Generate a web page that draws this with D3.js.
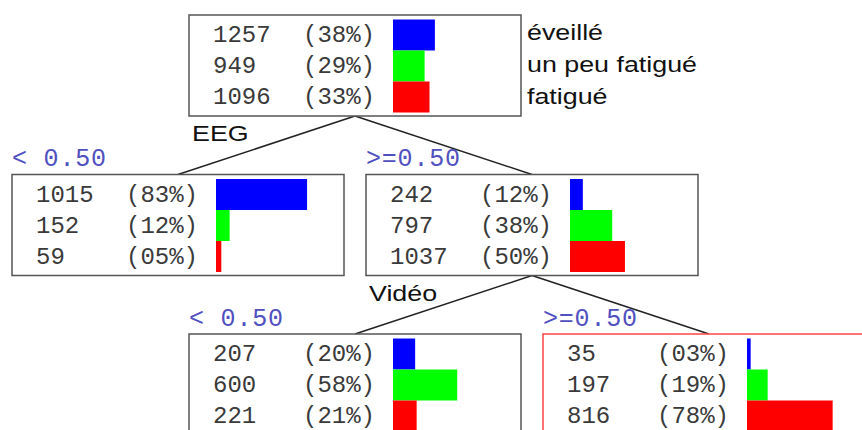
<!doctype html>
<html>
<head>
<meta charset="utf-8">
<script src="https://cdn.jsdelivr.net/npm/d3@7"></script>
<style>
	body { margin: 0; background: #fff; }
	.mono { font-family: "Liberation Mono", "DejaVu Sans Mono", monospace; }
	.sans { font-family: "Liberation Sans", Arial, sans-serif; }
</style>
</head>
<body>
<div id="main"></div>
<script>
// classes and colours
var classes = ['éveillé', 'un peu fatigué', 'fatigué'];
var classColors = ['#0000ff', '#00ff00', '#ff0000'];
// split variables and branch labels
var splitVars = ['EEG', 'Vidéo'];
var splitLabels = ['< 0.50', '>=0.50'];
// counts per node
var rootCounts = [1257, 949, 1096];
var eegLowCounts = [1015, 152, 59];
var eegHighCounts = [242, 797, 1037];
var videoLowCounts = [207, 600, 221];
var videoHighCounts = [35, 197, 816];

var width = 862, height = 430;
var boxW = 332, boxH = 101;
var monoSize = 24, edgeSize = 25, sansSize = 22, sansStretch = 1.22;

var treeData = {
	counts: rootCounts, split: splitVars[0], children: [
		{ counts: eegLowCounts, edge: splitLabels[0] },
		{ counts: eegHighCounts, edge: splitLabels[1], split: splitVars[1], children: [
			{ counts: videoLowCounts, edge: splitLabels[0] },
			{ counts: videoHighCounts, edge: splitLabels[1], selected: true }
		] }
	]
};

var svg = d3.select('#main').append('svg')
	.attr('width', width)
	.attr('height', height);

var root = d3.hierarchy(treeData);
d3.tree().nodeSize([354, 159.5])(root);

var g = svg.append('g').attr('transform', 'translate(355,15)');

// bar scale: proportion -> pixels
var xBar = d3.scaleLinear().domain([0, 1]).range([0, 110]);
var yRow = d3.scaleBand().domain([0, 1, 2]).range([4.5, 97.5]);
var fmtPct = d3.format('02d');

// links
g.selectAll('line.link')
	.data(root.links())
	.enter().append('line')
	.attr('class', 'link')
	.attr('x1', function(d) { return d.source.x; })
	.attr('y1', function(d) { return d.source.y + boxH; })
	.attr('x2', function(d) { return d.target.x; })
	.attr('y2', function(d) { return d.target.y; })
	.style('stroke', '#222')
	.style('stroke-width', 1.5);

var node = g.selectAll('g.node')
	.data(root.descendants())
	.enter().append('g')
	.attr('class', 'node')
	.attr('transform', function(d) { return 'translate(' + (d.x - boxW / 2) + ',' + d.y + ')'; });

node.append('rect')
	.attr('width', boxW)
	.attr('height', boxH)
	.style('fill', '#fff')
	.style('stroke', function(d) { return d.data.selected ? '#ff4444' : '#555'; })
	.style('stroke-width', 1.5);

node.each(function(d) {
	var sel = d3.select(this);
	var total = d3.sum(d.data.counts);
	d.data.counts.forEach(function(c, i) {
		var p = c / total;
		sel.append('rect')
			.attr('x', 204)
			.attr('y', yRow(i))
			.attr('width', xBar(p))
			.attr('height', yRow.bandwidth())
			.style('fill', classColors[i]);
		sel.append('text')
			.attr('class', 'mono')
			.attr('x', 24)
			.attr('y', yRow(i) + 22.5)
			.attr('font-size', monoSize)
			.style('fill', '#3a3a3a')
			.text(c);
		sel.append('text')
			.attr('class', 'mono')
			.attr('x', 114)
			.attr('y', yRow(i) + 22.5)
			.attr('font-size', monoSize)
			.style('fill', '#3a3a3a')
			.text('(' + fmtPct(Math.round(p * 100)) + '%)');
	});
	// branch label above box
	if (d.data.edge) {
		sel.append('text')
			.attr('class', 'mono')
			.attr('x', 0)
			.attr('y', -8.5)
			.attr('font-size', edgeSize)
			.attr('letter-spacing', 0.8)
			.style('fill', '#5050c0')
			.text(d.data.edge);
	}
	// split variable below box
	if (d.data.split) {
		sel.append('text')
			.attr('class', 'sans')
			.attr('transform', 'translate(3,' + (boxH + 25) + ') scale(' + sansStretch + ',1)')
			.attr('font-size', sansSize)
			.style('fill', '#111')
			.text(d.data.split);
	}
});

// legend next to root
var legend = g.append('g')
	.attr('transform', 'translate(' + (root.x + boxW / 2 + 6) + ',' + root.y + ')');
legend.selectAll('text')
	.data(classes)
	.enter().append('text')
	.attr('class', 'sans')
	.attr('transform', function(d, i) { return 'translate(0,' + (24.5 + i * 32) + ') scale(' + sansStretch + ',1)'; })
	.attr('font-size', sansSize)
	.style('fill', '#111')
	.text(function(d) { return d; });
</script>
</body>
</html>
